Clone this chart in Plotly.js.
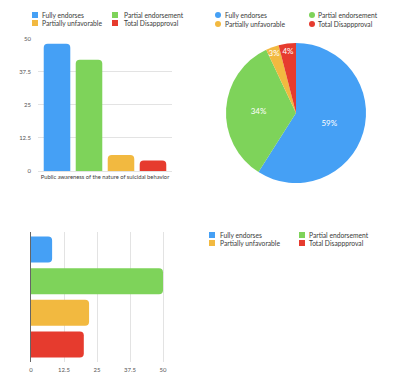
<!DOCTYPE html>
<html>
<head>
<meta charset="utf-8">
<script src="https://cdn.plot.ly/plotly-3.0.1.min.js"></script>
<style>html,body{margin:0;padding:0;background:#fff;}#chart{width:400px;height:381px;}</style>
</head>
<body>
<div id="chart"></div>
<script>
// ---- data ----
const categories = ['Fully endorses', 'Partial endorsement', 'Partially unfavorable', 'Total Disappproval'];
const colors = ['#45a0f5', '#7ed35a', '#f2b940', '#e63b2e'];
const barGroupLabel = ['Public awareness of the nature of suicidal behavior'];
const barValues = [48, 42, 6, 4];          // top-left grouped bars
const pieValues = [59, 34, 3, 4];          // pie (%)
const hbarValues = [8, 50, 22, 20];        // bottom-left horizontal bars
const yTicks = [0, 12.5, 25, 37.5, 50];
const xTicks = [0, 12.5, 25, 37.5, 50];

const FONT = 'Lato, "Open Sans", sans-serif';
const W = 400, H = 381;
const px = x => x / W;
const py = y => 1 - y / H;

const traces = [];
categories.forEach((c, i) => {
  traces.push({
    type: 'bar', name: c, x: barGroupLabel, y: [barValues[i]],
    xaxis: 'x', yaxis: 'y', marker: {color: colors[i]}, showlegend: false,
    hoverinfo: 'skip'
  });
});
traces.push({
  type: 'pie', labels: categories, values: pieValues, sort: false,
  direction: 'clockwise', rotation: 0,
  marker: {colors: colors, line: {width: 0}},
  textinfo: 'percent', textposition: 'inside', insidetextorientation: 'horizontal',
  textfont: {color: '#ffffff', size: 8, family: FONT},
  domain: {x: [px(225), px(367)], y: [py(183), py(43)]},
  showlegend: false, hoverinfo: 'skip'
});
categories.forEach((c, i) => {
  traces.push({
    type: 'bar', orientation: 'h', name: c, y: [c], x: [hbarValues[i]],
    xaxis: 'x2', yaxis: 'y2', marker: {color: colors[i]}, showlegend: false,
    offsetgroup: 'h', width: 0.82, hoverinfo: 'skip'
  });
});

// ---- legends: marker shapes + text annotations ----
const annotations = [];
const shapes = [];
function legend(shapeType, colX, textX, rowY) {
  categories.forEach((c, i) => {
    const col = i % 2, row = Math.floor(i / 2);
    const cx = colX[col], cy = rowY[row], s = 3;
    shapes.push({
      type: shapeType, xref: 'paper', yref: 'paper',
      x0: px(cx - s), x1: px(cx + s), y0: py(cy + s), y1: py(cy - s),
      fillcolor: colors[i], line: {width: 0}
    });
    annotations.push({
      xref: 'paper', yref: 'paper', x: px(textX[col]), y: py(cy),
      xanchor: 'left', yanchor: 'middle', showarrow: false, borderpad: 0,
      text: c, font: {size: 6.7, color: '#3a3a3a', family: FONT}
    });
  });
}
legend('rect', [35, 115], [41, 123], [15, 23]);
legend('circle', [218, 312], [224, 317], [15, 24]);
legend('rect', [212, 302], [219, 308], [235, 243]);

const layout = {
  width: W, height: H,
  margin: {l: 0, r: 0, t: 0, b: 0},
  paper_bgcolor: '#ffffff', plot_bgcolor: '#ffffff',
  font: {family: FONT, color: '#555'},
  showlegend: false,
  barmode: 'group', bargap: 0.045, bargroupgap: 0.17, barcornerradius: 4,
  uniformtext: {mode: 'show', minsize: 8},
  xaxis: {
    domain: [px(38), px(172)], anchor: 'y', type: 'category',
    showgrid: false, zeroline: false, showline: false,
    tickfont: {size: 5.8, color: '#3a3a3a', family: FONT}, ticks: '', ticklabelstandoff: 1,
    fixedrange: true
  },
  yaxis: {
    domain: [py(171), py(38)], anchor: 'x', range: [0, 50.2],
    tickvals: yTicks, ticktext: yTicks.map(String),
    showgrid: true, gridcolor: '#e3e3e3', gridwidth: 1,
    zeroline: true, zerolinecolor: '#e3e3e3', zerolinewidth: 1, showline: false,
    tickfont: {size: 6, color: '#555', family: FONT}, ticks: '', ticklabelstandoff: 6,
    fixedrange: true
  },
  xaxis2: {
    domain: [px(31), px(31 + 132 * 51 / 50)], anchor: 'y2', range: [0, 51],
    tickvals: xTicks, ticktext: xTicks.map(String),
    showgrid: true, gridcolor: '#e3e3e3', gridwidth: 1, zeroline: false, showline: false,
    tickfont: {size: 6, color: '#555', family: FONT}, ticks: '', ticklabelstandoff: 3,
    fixedrange: true
  },
  yaxis2: {
    domain: [py(362), py(232)], anchor: 'x2', type: 'category',
    categoryorder: 'array', categoryarray: categories,
    range: [3.55, -0.55], autorange: false,
    showticklabels: false, showgrid: false, zeroline: false,
    showline: true, linecolor: '#666', linewidth: 1, ticks: '',
    fixedrange: true
  },
  shapes: shapes,
  annotations: annotations
};

Plotly.newPlot('chart', traces, layout, {displayModeBar: false, staticPlot: true});
</script>
</body>
</html>
